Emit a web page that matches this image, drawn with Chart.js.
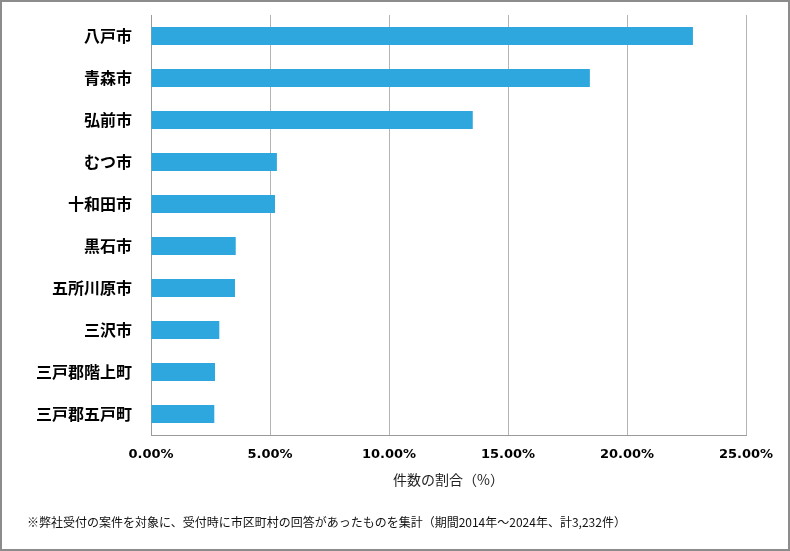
<!DOCTYPE html>
<html>
<head>
<meta charset="utf-8">
<script src="https://cdn.jsdelivr.net/npm/chart.js@4"></script>
<style>
  html, body { margin: 0; padding: 0; background: #fff; }
  #wrap { position: relative; width: 790px; height: 551px; }
  #frame { position: absolute; left: 0; top: 0; width: 790px; height: 551px; box-sizing: border-box; border: 2px solid #8c8c8c; pointer-events: none; }
  #note { position: absolute; left: 27px; top: 513px; font: 12px "Noto Sans CJK JP", sans-serif; color: #111; white-space: nowrap; }
  canvas { position: absolute; left: 0; top: 0; }
</style>
</head>
<body>
<div id="wrap">
  <canvas id="chart" width="790" height="551"></canvas>
  <div id="note">※弊社受付の案件を対象に、受付時に市区町村の回答があったものを集計（期間2014年～2024年、計3,232件）</div>
  <div id="frame"></div>
</div>
<script>
const cities = ['八戸市', '青森市', '弘前市', 'むつ市', '十和田市', '黒石市', '五所川原市', '三沢市', '三戸郡階上町', '三戸郡五戸町'];
const shares = [22.77, 18.44, 13.52, 5.29, 5.21, 3.56, 3.53, 2.87, 2.69, 2.66];
const xTicks = [0, 5, 10, 15, 20, 25];
const axisTitle = '件数の割合（%）';

const chartEl = document.getElementById('chart');

new Chart(chartEl, {
    type: 'bar',
    data: {
        labels: cities,
        datasets: [{
            data: shares,
            backgroundColor: '#2ea7df',
            categoryPercentage: 1,
            barPercentage: 0.43
        }]
    },
    options: {
        indexAxis: 'y',
        responsive: false,
        animation: false,
        layout: { padding: { top: 15, right: 44, bottom: 56, left: 0 } },
        plugins: {
            legend: { display: false },
            tooltip: { enabled: false }
        },
        scales: {
            x: {
                min: xTicks[0],
                max: xTicks[xTicks.length - 1],
                afterBuildTicks: scale => { scale.ticks = xTicks.map(v => ({ value: v })); },
                afterFit: scale => { scale.height = 60; },
                grid: { color: '#b4b4b4', drawTicks: false },
                border: { display: true, color: '#9a9a9a', width: 1 },
                ticks: {
                    padding: 12,
                    color: '#000',
                    font: { family: 'DejaVu Sans', size: 13, weight: 'bold' },
                    callback: v => v.toFixed(2) + '%'
                },
                title: {
                    display: true,
                    text: axisTitle,
                    color: '#222',
                    padding: { top: 0, bottom: 7 },
                    font: { family: 'Noto Sans CJK JP', size: 14 }
                }
            },
            y: {
                afterFit: scale => {
                    scale.width = 151;
                    scale.paddingTop = 0;
                    scale.paddingBottom = 0;
                },
                grid: { display: false, drawTicks: false },
                border: { display: true, color: '#9a9a9a', width: 1 },
                ticks: {
                    padding: 19,
                    color: '#000',
                    font: { family: 'Noto Sans CJK JP', size: 16, weight: 'bold' }
                }
            }
        }
    }
});
</script>
</body>
</html>
